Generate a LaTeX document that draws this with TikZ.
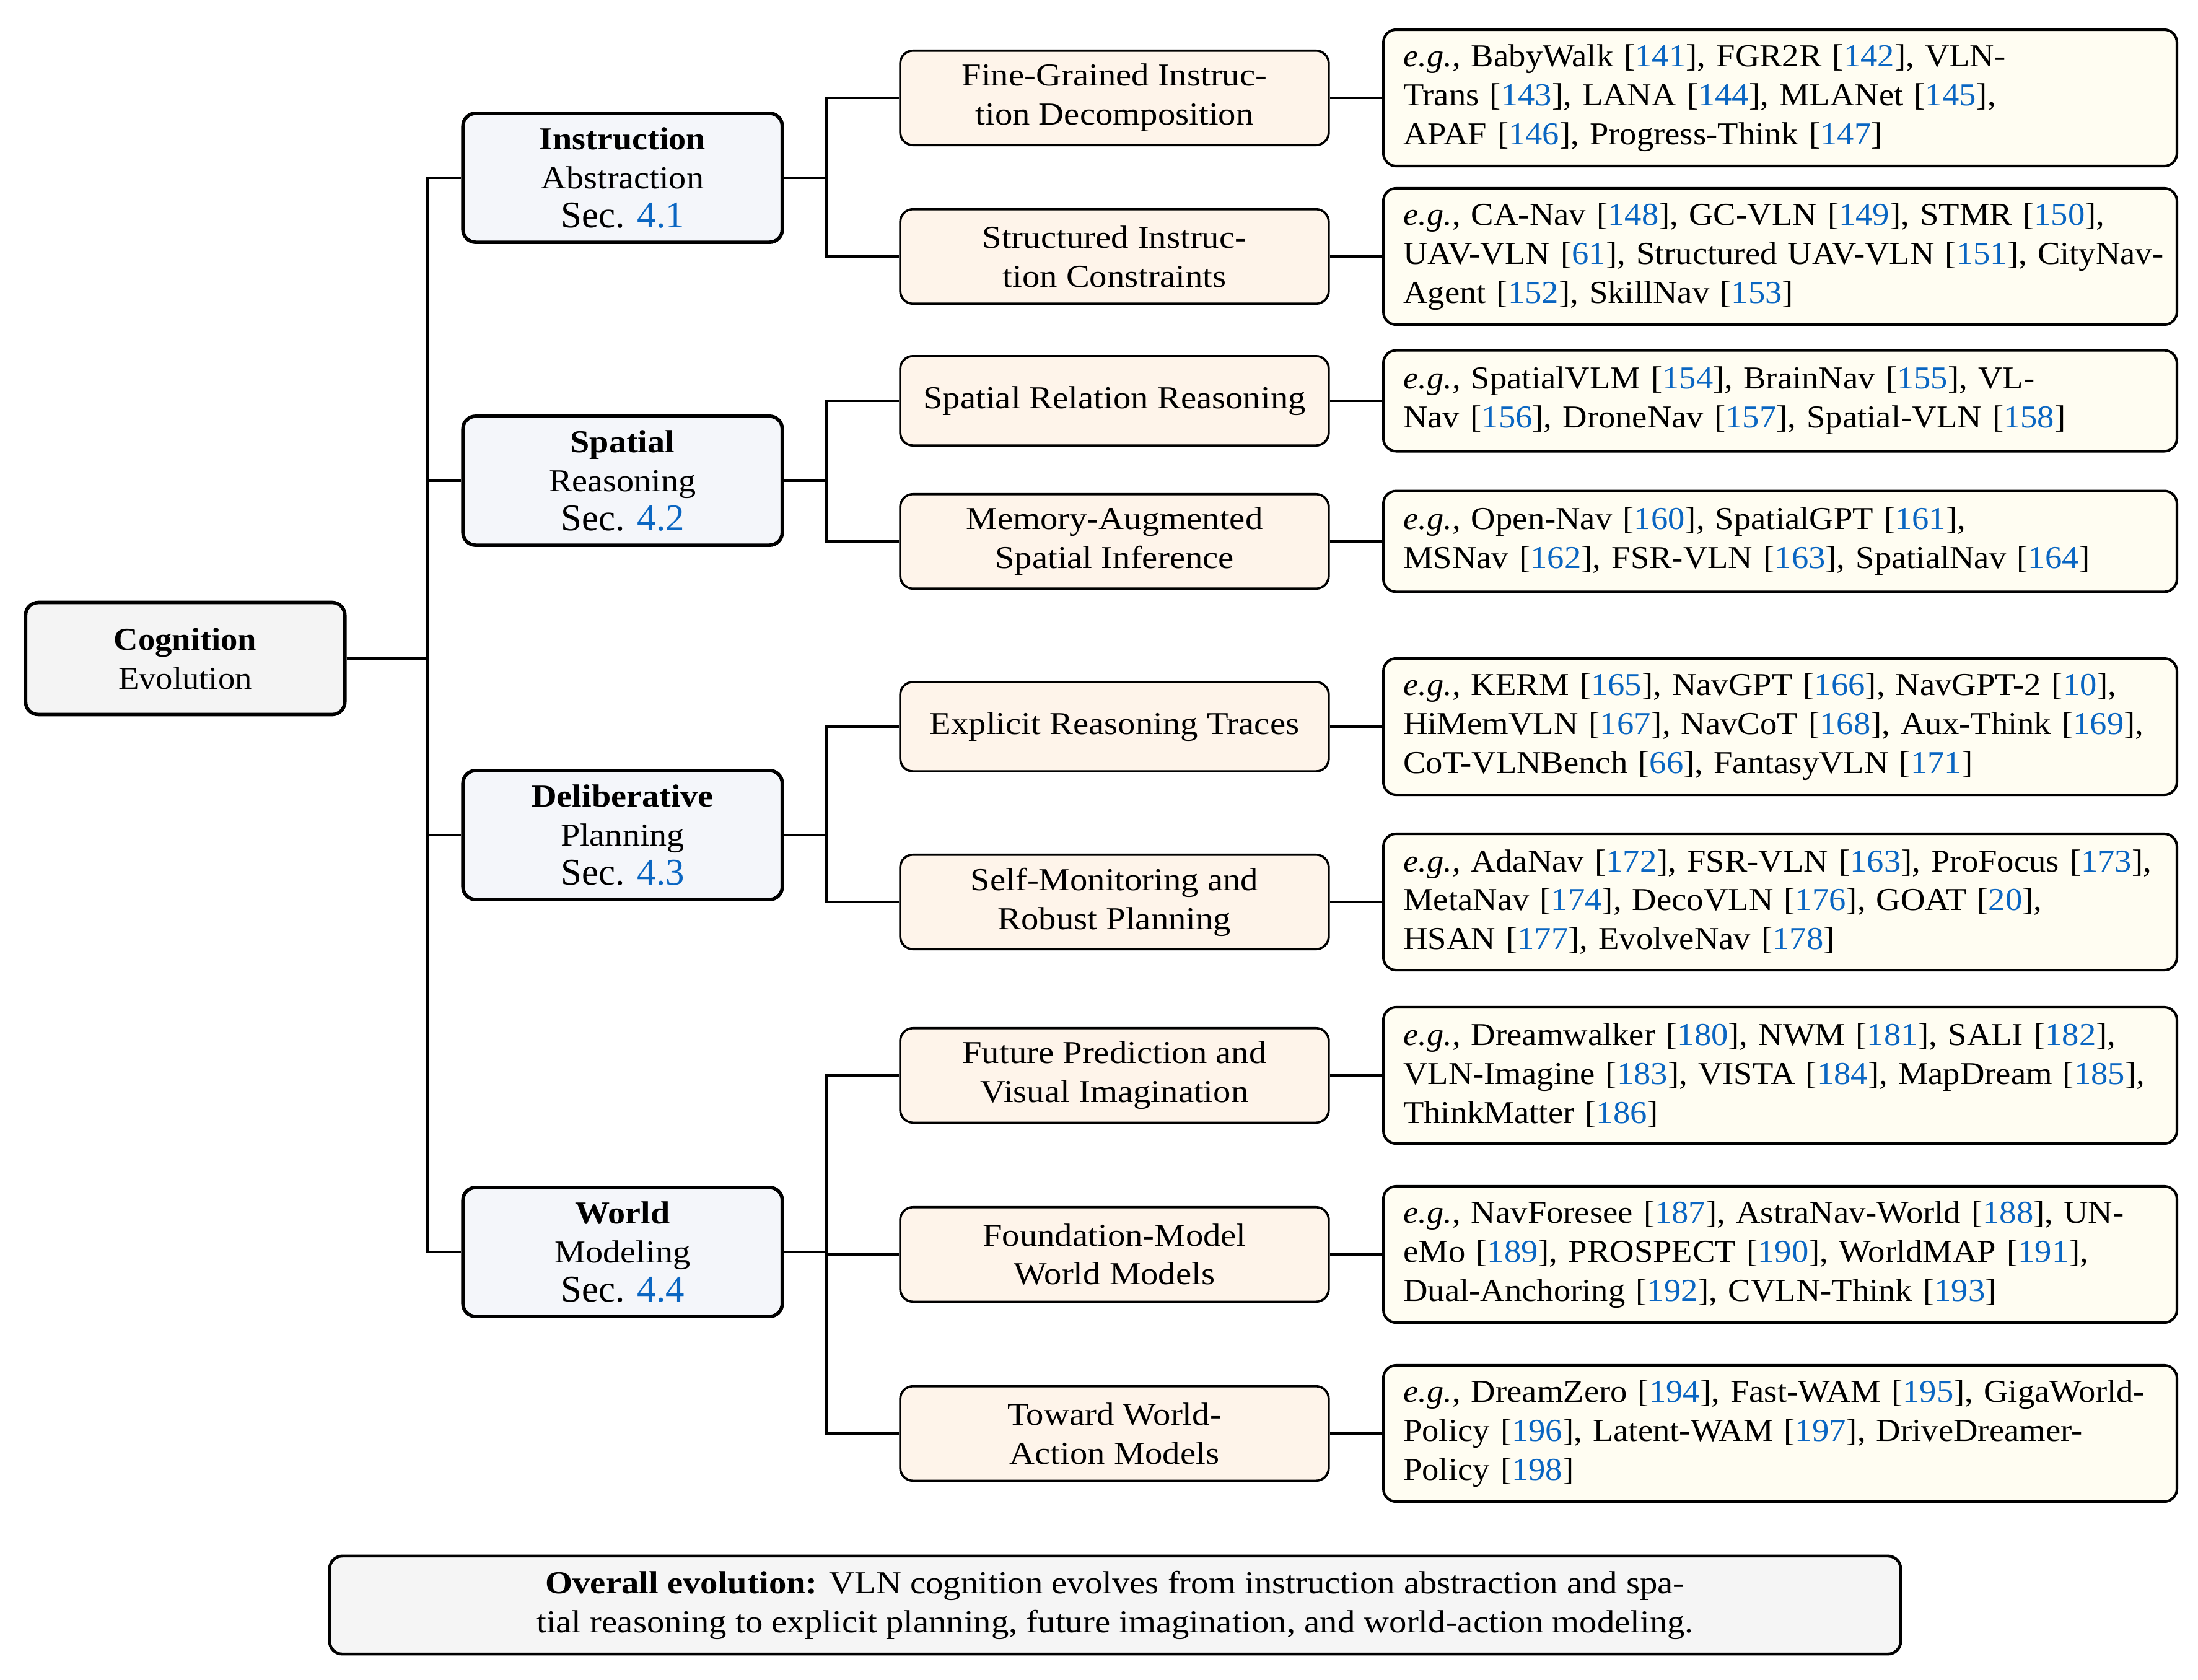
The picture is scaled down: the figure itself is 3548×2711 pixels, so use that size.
\documentclass[tikz,border=0pt]{standalone}
\usepackage{fontspec}
\setmainfont{Liberation Serif}[FakeStretch=1.06]
\newfontfamily\fcat{Liberation Serif}[FakeStretch=1.09]
\newfontfamily\fsub{Liberation Serif}[FakeStretch=1.10]
\newfontfamily\fsec{Liberation Serif}[FakeStretch=1.0]
\definecolor{cblue}{RGB}{10,102,194}
\definecolor{rootfill}{RGB}{244,244,244}
\definecolor{lonefill}{RGB}{244,246,250}
\definecolor{ltwofill}{RGB}{254,244,234}
\definecolor{leaffill}{RGB}{255,253,242}
\definecolor{botfill}{RGB}{245,245,245}
\newcommand{\rf}[1]{[\textcolor{cblue}{#1}]}
\newcommand{\egx}{\textit{e.g.}}
\newcommand{\lnbox}[1]{\mbox{#1}}
\newcommand{\secn}[1]{{\fsec\fontsize{11.8}{12.2}\selectfont Sec. \textcolor{cblue}{#1}}}
\tikzset{
  box/.style={draw, rounded corners=4pt, inner sep=0pt, align=center, font=\fontsize{10}{12.2}\selectfont},
  rootbox/.style={box, fill=rootfill, line width=1.1pt, minimum width=100pt, minimum height=35.1pt},
  catbox/.style={box, fill=lonefill, line width=1.1pt, minimum width=100pt, minimum height=40.4pt, font=\fcat\fontsize{10}{12.2}\selectfont},
  subbox/.style={box, fill=ltwofill, line width=0.7pt, minimum width=134.2pt, minimum height=28pt, font=\fsub\fontsize{10}{12.2}\selectfont},
  subtwo/.style={subbox, minimum height=29.6pt},
  leafbox/.style={box, fill=leaffill, line width=0.8pt, minimum width=248.5pt, text width=236pt, align=left, minimum height=42.7pt},
  leaftwo/.style={leafbox, minimum height=31.6pt},
  botbox/.style={box, fill=botfill, line width=0.9pt, minimum width=492pt, minimum height=30.7pt, font=\fsub\fontsize{10}{12.2}\selectfont},
  conn/.style={line width=0.85pt}
}
\begin{document}
\begin{tikzpicture}[x=0.194pt,y=-0.194pt]
\useasboundingbox (0,0) rectangle (3548,2711);

% root
\node[rootbox] (root) at (299,1063) {{\bfseries Cognition}\\Evolution};

% level 1
\node[catbox] (ia) at (1005,287) {{\bfseries Instruction}\\Abstraction\\\secn{4.1}};
\node[catbox] (sr) at (1005,776) {{\bfseries Spatial}\\Reasoning\\\secn{4.2}};
\node[catbox] (dp) at (1005,1348) {{\bfseries Deliberative}\\Planning\\\secn{4.3}};
\node[catbox] (wm) at (1005,2021) {{\bfseries World}\\Modeling\\\secn{4.4}};

% level 2
\node[subtwo] (s1) at (1799,158) {Fine-Grained Instruc-\\tion Decomposition};
\node[subtwo] (s2) at (1799,414) {Structured Instruc-\\tion Constraints};
\node[subbox] (s3) at (1799,647) {Spatial Relation Reasoning};
\node[subtwo] (s4) at (1799,874) {Memory-Augmented\\Spatial Inference};
\node[subbox] (s5) at (1799,1173) {Explicit Reasoning Traces};
\node[subtwo] (s6) at (1799,1456) {Self-Monitoring and\\Robust Planning};
\node[subtwo] (s7) at (1799,1736) {Future Prediction and\\Visual Imagination};
\node[subtwo] (s8) at (1799,2025) {Foundation-Model\\World Models};
\node[subtwo] (s9) at (1799,2314) {Toward World-\\Action Models};

% leaves
\node[leafbox] (f1) at (2873.5,158) {\lnbox{\egx, BabyWalk \rf{141}, FGR2R \rf{142}, VLN-}\\\lnbox{Trans \rf{143}, LANA \rf{144}, MLANet \rf{145},}\\\lnbox{APAF \rf{146}, Progress-Think \rf{147}}};
\node[leafbox] (f2) at (2873.5,414) {\lnbox{\egx, CA-Nav \rf{148}, GC-VLN \rf{149}, STMR \rf{150},}\\\lnbox{UAV-VLN \rf{61}, Structured UAV-VLN \rf{151}, CityNav-}\\\lnbox{Agent \rf{152}, SkillNav \rf{153}}};
\node[leaftwo] (f3) at (2873.5,647) {\lnbox{\egx, SpatialVLM \rf{154}, BrainNav \rf{155}, VL-}\\\lnbox{Nav \rf{156}, DroneNav \rf{157}, Spatial-VLN \rf{158}}};
\node[leaftwo] (f4) at (2873.5,874) {\lnbox{\egx, Open-Nav \rf{160}, SpatialGPT \rf{161},}\\\lnbox{MSNav \rf{162}, FSR-VLN \rf{163}, SpatialNav \rf{164}}};
\node[leafbox] (f5) at (2873.5,1173) {\lnbox{\egx, KERM \rf{165}, NavGPT \rf{166}, NavGPT-2 \rf{10},}\\\lnbox{HiMemVLN \rf{167}, NavCoT \rf{168}, Aux-Think \rf{169},}\\\lnbox{CoT-VLNBench \rf{66}, FantasyVLN \rf{171}}};
\node[leafbox] (f6) at (2873.5,1456) {\lnbox{\egx, AdaNav \rf{172}, FSR-VLN \rf{163}, ProFocus \rf{173},}\\\lnbox{MetaNav \rf{174}, DecoVLN \rf{176}, GOAT \rf{20},}\\\lnbox{HSAN \rf{177}, EvolveNav \rf{178}}};
\node[leafbox] (f7) at (2873.5,1736) {\lnbox{\egx, Dreamwalker \rf{180}, NWM \rf{181}, SALI \rf{182},}\\\lnbox{VLN-Imagine \rf{183}, VISTA \rf{184}, MapDream \rf{185},}\\\lnbox{ThinkMatter \rf{186}}};
\node[leafbox] (f8) at (2873.5,2025) {\lnbox{\egx, NavForesee \rf{187}, AstraNav-World \rf{188}, UN-}\\\lnbox{eMo \rf{189}, PROSPECT \rf{190}, WorldMAP \rf{191},}\\\lnbox{Dual-Anchoring \rf{192}, CVLN-Think \rf{193}}};
\node[leafbox] (f9) at (2873.5,2314) {\lnbox{\egx, DreamZero \rf{194}, Fast-WAM \rf{195}, GigaWorld-}\\\lnbox{Policy \rf{196}, Latent-WAM \rf{197}, DriveDreamer-}\\\lnbox{Policy \rf{198}}};

% bottom summary
\node[botbox] (sum) at (1800,2591) {{\bfseries Overall evolution:} VLN cognition evolves from instruction abstraction and spa-\\tial reasoning to explicit planning, future imagination, and world-action modeling.};

% connectors root -> level 1
\foreach \c in {ia,sr,dp,wm}
  \draw[conn] (root.east) -- ++(131,0) |- (\c.west);
% level 1 -> level 2
\draw[conn] (ia.east) -- ++(68,0) |- (s1.west);
\draw[conn] (ia.east) -- ++(68,0) |- (s2.west);
\draw[conn] (sr.east) -- ++(68,0) |- (s3.west);
\draw[conn] (sr.east) -- ++(68,0) |- (s4.west);
\draw[conn] (dp.east) -- ++(68,0) |- (s5.west);
\draw[conn] (dp.east) -- ++(68,0) |- (s6.west);
\draw[conn] (wm.east) -- ++(68,0) |- (s7.west);
\draw[conn] (wm.east) -- ++(68,0) |- (s8.west);
\draw[conn] (wm.east) -- ++(68,0) |- (s9.west);
% level 2 -> leaves
\foreach \i in {1,...,9}
  \draw[conn] (s\i.east) -- (f\i.west);
\end{tikzpicture}
\end{document}
